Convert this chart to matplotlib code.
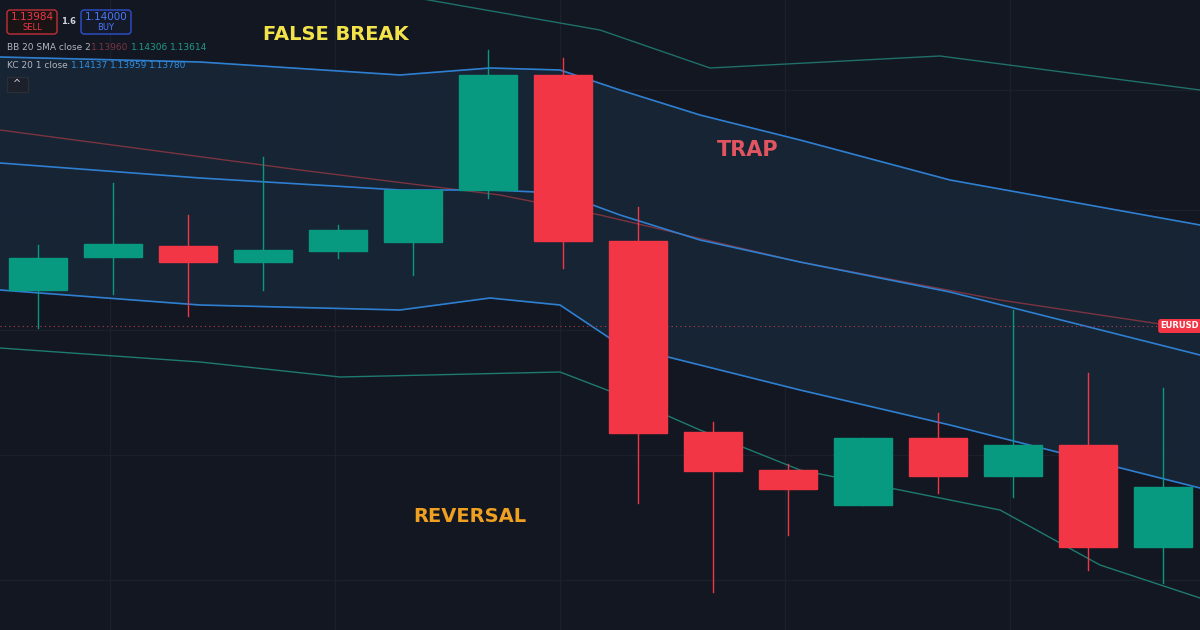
import numpy as np
import matplotlib.pyplot as plt
from matplotlib.patches import Rectangle, FancyBboxPatch

# candles, values read in chart units (top = 0, bottom = 630)
opens  = [290, 257, 246, 262, 251, 242, 190, 75, 241, 432, 470, 505, 438, 476, 445, 547]
closes = [258, 244, 262, 250, 230, 190, 75, 241, 433, 471, 489, 438, 476, 445, 547, 487]
highs  = [245, 183, 215, 157, 225, 190, 50, 58, 207, 422, 464, 438, 413, 310, 373, 388]
lows   = [328, 294, 316, 290, 258, 275, 198, 268, 503, 592, 535, 505, 493, 497, 570, 583]
xs = [38 + 75 * i for i in range(len(opens))]

line_x = [0, 200, 400, 490, 560, 620, 700, 800, 950, 1200]
kc_up  = [57, 62, 75, 68, 70, 90, 115, 140, 180, 225]
kc_mid = [163, 178, 190, 190, 193, 215, 240, 262, 292, 355]
kc_low = [290, 305, 310, 298, 305, 345, 365, 390, 425, 488]
bb_x   = [0, 200, 340, 560, 620, 700, 800, 1000, 1100, 1200]
bb_low = [348, 362, 377, 372, 395, 430, 470, 510, 565, 598]
bb_up_x = [0, 400, 600, 710, 940, 1200]
bb_up   = [-40, -5, 30, 68, 56, 90]
basis_x = [0, 300, 500, 600, 800, 1000, 1200]
basis   = [130, 170, 195, 215, 262, 300, 330]

bg = "#131722"
fig = plt.figure(figsize=(12, 6.3), dpi=100, facecolor=bg)
ax = fig.add_axes([0, 0, 1, 1], facecolor=bg)
ax.set_xlim(0, 1200)
ax.set_ylim(630, 0)
ax.axis("off")

for gx in [110, 335, 560, 785, 1010]:
    ax.axvline(gx, color="#1b202c", lw=1, zorder=0)
for gy in [90, 210, 330, 455, 580]:
    ax.axhline(gy, color="#1b202c", lw=1, zorder=0)

ax.fill_between(line_x, kc_up, kc_low, color="#182738", alpha=0.85, zorder=1)
ax.plot(bb_up_x, bb_up, color="#1f6f6a", lw=1, zorder=2)
ax.plot(bb_x, bb_low, color="#1f7a70", lw=1, zorder=2)
ax.plot(basis_x, basis, color="#7a3440", lw=1, zorder=2)
for yy in (kc_up, kc_mid, kc_low):
    ax.plot(line_x, yy, color="#2f7fd0", lw=1.2, zorder=2)

ax.axhline(326, color="#b04050", lw=0.8, ls=(0, (1, 3)), zorder=2)

green, red = "#089981", "#f23645"
w = 58
for x, o, c, h, l in zip(xs, opens, closes, highs, lows):
    col = green if c < o else red
    ax.plot([x, x], [h, l], color=col, lw=1, zorder=3)
    ax.add_patch(Rectangle((x - w / 2, min(o, c)), w, abs(o - c), color=col, zorder=4))

ax.text(336, 35, "FALSE BREAK", color="#f2e34a", fontsize=14, fontweight="bold", ha="center", va="center")
ax.text(748, 150, "TRAP", color="#e05560", fontsize=15, fontweight="bold", ha="center", va="center")
ax.text(470, 516, "REVERSAL", color="#f0a020", fontsize=14, fontweight="bold", ha="center", va="center")

# top-left widgets
ax.add_patch(FancyBboxPatch((7, 10), 50, 24, boxstyle="round,pad=0,rounding_size=3",
                            fc="#1a1414", ec="#c0303a", lw=1, zorder=5))
ax.text(32, 17, "1.13984", color="#f23645", fontsize=7.5, ha="center", va="center", zorder=6)
ax.text(32, 28, "SELL", color="#f23645", fontsize=6, ha="center", va="center", zorder=6)
ax.text(69, 21, "1.6", color="#d1d4dc", fontsize=6, ha="center", va="center", fontweight="bold")
ax.add_patch(FancyBboxPatch((81, 10), 50, 24, boxstyle="round,pad=0,rounding_size=3",
                            fc="#141a28", ec="#3050d0", lw=1, zorder=5))
ax.text(106, 17, "1.14000", color="#4a78ff", fontsize=7.5, ha="center", va="center", zorder=6)
ax.text(106, 28, "BUY", color="#4a78ff", fontsize=6, ha="center", va="center", zorder=6)

ax.text(7, 47, "BB 20 SMA close 2", color="#b2b5be", fontsize=6.5, va="center")
ax.text(91, 47, "1.13960", color="#7a3440", fontsize=6.5, va="center")
ax.text(131, 47, "1.14306", color="#1f9a88", fontsize=6.5, va="center")
ax.text(170, 47, "1.13614", color="#1f9a88", fontsize=6.5, va="center")
ax.text(7, 65, "KC 20 1 close", color="#b2b5be", fontsize=6.5, va="center")
ax.text(71, 65, "1.14137", color="#2f8fe0", fontsize=6.5, va="center")
ax.text(110, 65, "1.13959", color="#2f8fe0", fontsize=6.5, va="center")
ax.text(149, 65, "1.13780", color="#2f8fe0", fontsize=6.5, va="center")
ax.add_patch(Rectangle((7, 77), 21, 15, fc="#1c202b", ec="#2a2e39", zorder=5))
ax.text(17.5, 84, "^", color="#d1d4dc", fontsize=7, ha="center", va="center", zorder=6)

ax.text(1180, 326, "EURUSD", color="white", fontsize=6, ha="center", va="center", fontweight="bold",
        bbox=dict(boxstyle="round,pad=0.3", fc="#f23645", ec="none"), zorder=6)

fig.savefig("out.png", dpi=100, facecolor=bg)
